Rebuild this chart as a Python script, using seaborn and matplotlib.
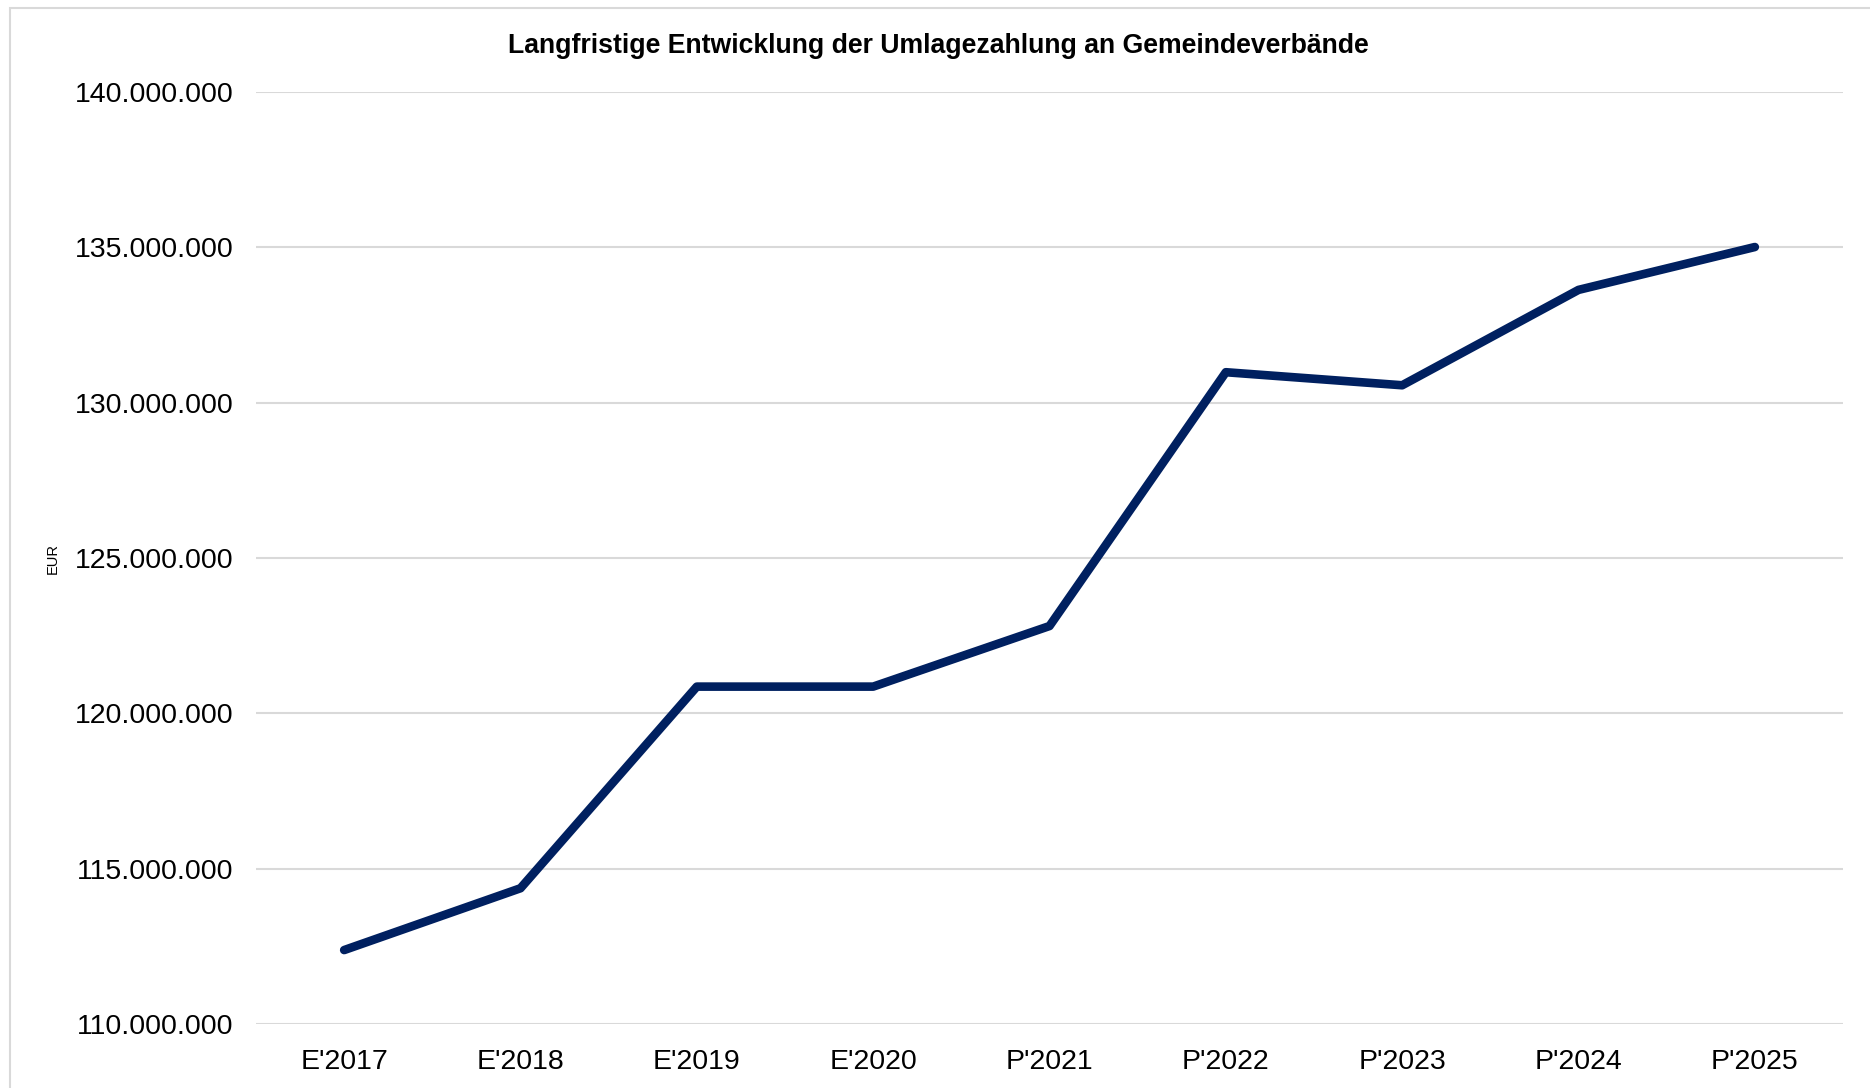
import matplotlib
matplotlib.use("Agg")
import matplotlib.pyplot as plt
from matplotlib.patches import Rectangle
from matplotlib.ticker import FuncFormatter
import seaborn as sns
import pandas as pd

# ── Data ──────────────────────────────────────────────────────
years = ["E'2017", "E'2018", "E'2019", "E'2020", "P'2021",
         "P'2022", "P'2023", "P'2024", "P'2025"]
umlage = [112_380_000, 114_370_000, 120_860_000, 120_860_000, 122_810_000,
          130_980_000, 130_560_000, 133_630_000, 135_010_000]

title = "Langfristige Entwicklung der Umlagezahlung an Gemeindeverbände"
y_ticks = [110_000_000, 115_000_000, 120_000_000, 125_000_000,
           130_000_000, 135_000_000, 140_000_000]

df = pd.DataFrame({"Jahr": years, "EUR": umlage})

# ── Style ─────────────────────────────────────────────────────
sns.set_theme(style="white")
plt.rcParams["font.family"] = ["Liberation Sans", "DejaVu Sans"]
plt.rcParams["text.color"] = "black"

W, H = 1870, 1088
fig = plt.figure(figsize=(W / 100, H / 100), dpi=100)
ax = fig.add_axes([256 / W, 1 - 1024 / H, (1843 - 256) / W, (1024 - 92) / H])

# chart frame (cut off at right/bottom like the original)
fig.patches.append(Rectangle((10 / W, -0.1), 1.2, 1 - 8 / H + 0.1,
                             transform=fig.transFigure, fill=False,
                             edgecolor="#d9d9d9", linewidth=1.5, zorder=0))

xs = list(range(len(years)))
sns.lineplot(x=xs, y=df["EUR"], ax=ax, color="#002060", linewidth=6.2,
             solid_capstyle="round", solid_joinstyle="round", zorder=3)

ax.set_xlim(-0.5, len(years) - 0.5)
ax.set_ylim(110_000_000, 140_000_000)
ax.set_xticks(xs)
ax.set_xticklabels(years)
ax.set_yticks(y_ticks)
ax.yaxis.set_major_formatter(FuncFormatter(lambda v, p: f"{v:,.0f}".replace(",", ".")))

ax.grid(axis="y", color="#d9d9d9", linewidth=1.5)
ax.grid(axis="x", visible=False)
for s in ax.spines.values():
    s.set_visible(False)
ax.tick_params(axis="both", length=0, labelsize=20.5, colors="black")
ax.tick_params(axis="y", pad=16)
ax.tick_params(axis="x", pad=18)

ax.set_xlabel("")
ax.set_ylabel("EUR", fontsize=10.5, color="black")
ax.yaxis.set_label_coords(-0.1236, 0.5)

fig.text(0.502, 1 - 46 / H, title, ha="center", va="center",
         fontsize=19.2, fontweight="bold", color="black")

fig.savefig("out.png", dpi=100)
